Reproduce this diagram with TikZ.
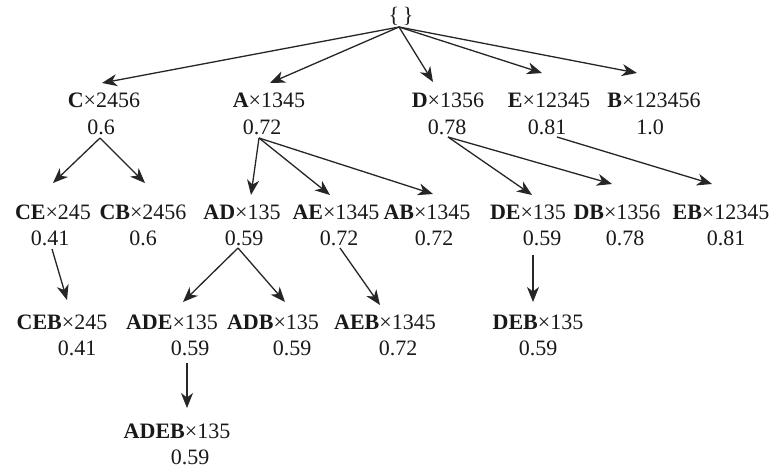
\documentclass[tikz,border=0pt]{standalone}
\usepackage{fontspec}
\setmainfont{Liberation Serif}
\usetikzlibrary{arrows.meta}
\begin{document}
\begin{tikzpicture}[x=1pt,y=-1pt,
  lbl/.style={inner sep=0pt, font=\fontsize{22}{26}\selectfont, text=black!90},
  arr/.style={draw=black!85, line width=1.3pt, -{Stealth[length=15pt,width=12pt,inset=4.5pt]}}]
\useasboundingbox[fill=white] (0,0) rectangle (770,469);
% root
\node[lbl] (root) at (401,16) {\{\,\}};
% level 1
\node[lbl] (c) at (104,100) {\textbf{C}×2456};  \node[lbl] (cv) at (101,127) {0.6};
\node[lbl] (a) at (269,100) {\textbf{A}×1345};  \node[lbl] (av) at (262,127) {0.72};
\node[lbl] (d) at (448,100) {\textbf{D}×1356};  \node[lbl] (dv) at (447,127) {0.78};
\node[lbl] (e) at (549,100) {\textbf{E}×12345}; \node[lbl] (ev) at (547,127) {0.81};
\node[lbl] (b) at (654,100) {\textbf{B}×123456};\node[lbl] (bv) at (650,127) {1.0};
% level 2
\node[lbl] (ce) at (53,212) {\textbf{CE}×245};   \node[lbl] (cev) at (50,238) {0.41};
\node[lbl] (cb) at (143,212) {\textbf{CB}×2456}; \node[lbl] (cbv) at (143,238) {0.6};
\node[lbl] (ad) at (242,212) {\textbf{AD}×135};  \node[lbl] (adv) at (244,238) {0.59};
\node[lbl] (ae) at (336,212) {\textbf{AE}×1345}; \node[lbl] (aev) at (339,238) {0.72};
\node[lbl] (ab) at (427,212) {\textbf{AB}×1345}; \node[lbl] (abv) at (434,238) {0.72};
\node[lbl] (de) at (528,212) {\textbf{DE}×135};  \node[lbl] (dev) at (542,238) {0.59};
\node[lbl] (db) at (617,212) {\textbf{DB}×1356}; \node[lbl] (dbv) at (625,238) {0.78};
\node[lbl] (eb) at (721,212) {\textbf{EB}×12345};\node[lbl] (ebv) at (726,238) {0.81};
% level 3
\node[lbl] (ceb) at (62,322) {\textbf{CEB}×245};   \node[lbl] (cebv) at (77,348) {0.41};
\node[lbl] (ade) at (172,322) {\textbf{ADE}×135};  \node[lbl] (adev) at (190,348) {0.59};
\node[lbl] (adb) at (273,322) {\textbf{ADB}×135};  \node[lbl] (adbv) at (292,348) {0.59};
\node[lbl] (aeb) at (385,322) {\textbf{AEB}×1345}; \node[lbl] (aebv) at (398,348) {0.72};
\node[lbl] (deb) at (538,322) {\textbf{DEB}×135};  \node[lbl] (debv) at (538,348) {0.59};
% level 4
\node[lbl] (adeb) at (177,431) {\textbf{ADEB}×135}; \node[lbl] (adebv) at (190,457) {0.59};
% arrows from root
\draw[arr] ([shift={(-2,11)}]root.center) -- ([shift={(-2,-17)}]c.center);
\draw[arr] ([shift={(-2,11)}]root.center) -- ([shift={(1,-17)}]a.center);
\draw[arr] ([shift={(-2,11)}]root.center) -- ([shift={(-15,-18)}]d.center);
\draw[arr] ([shift={(-2,11)}]root.center) -- ([shift={(-7,-27)}]e.center);
\draw[arr] ([shift={(-2,11)}]root.center) -- ([shift={(-17,-27)}]b.center);
% level 1 -> 2
\draw[arr] ([shift={(-1,11)}]cv.center) -- ([shift={(0,-29)}]ce.center);
\draw[arr] ([shift={(-1,11)}]cv.center) -- ([shift={(2,-29)}]cb.center);
\draw[arr] ([shift={(-3,11)}]av.center) -- ([shift={(9,-17)}]ad.center);
\draw[arr] ([shift={(-3,11)}]av.center) -- ([shift={(-6,-17)}]ae.center);
\draw[arr] ([shift={(-3,11)}]av.center) -- ([shift={(6,-18)}]ab.center);
\draw[arr] ([shift={(1,10)}]dv.center) -- ([shift={(4,-17)}]de.center);
\draw[arr] ([shift={(1,10)}]dv.center) -- ([shift={(-5,-28)}]db.center);
\draw[arr] ([shift={(10,10)}]ev.center) -- ([shift={(-9,-28)}]eb.center);
% level 2 -> 3
\draw[arr] ([shift={(2,11)}]cev.center) -- ([shift={(5,-22)}]ceb.center);
\draw[arr] ([shift={(-6,10)}]adv.center) -- ([shift={(11,-20)}]ade.center);
\draw[arr] ([shift={(-6,10)}]adv.center) -- ([shift={(12,-20)}]adb.center);
\draw[arr] ([shift={(1,10)}]aev.center) -- ([shift={(-5,-17)}]aeb.center);
\draw[arr] ([shift={(-9,17)}]dev.center) -- ([shift={(-5,-20)}]deb.center);
% level 3 -> 4
\draw[arr] ([shift={(-3,15)}]adev.center) -- ([shift={(10,-23)}]adeb.center);
\end{tikzpicture}
\end{document}
